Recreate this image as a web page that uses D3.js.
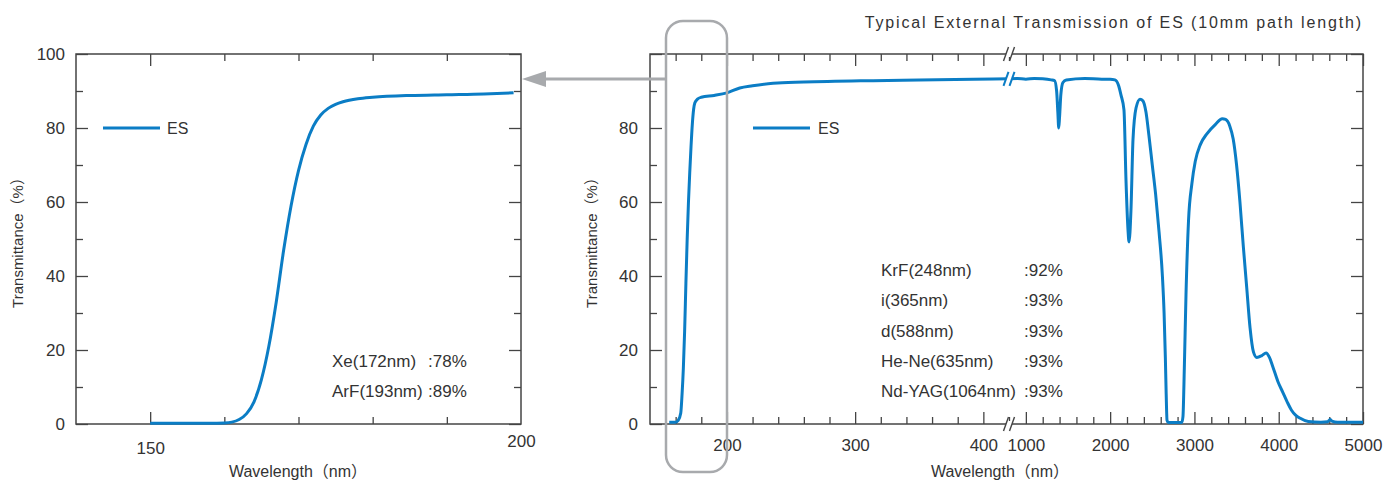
<!DOCTYPE html>
<html>
<head>
<meta charset="utf-8">
<script src="https://cdn.jsdelivr.net/npm/d3@7"></script>
<style>
  body { margin: 0; background: #fff; }
  text { font-family: "Liberation Sans", "Noto Sans CJK JP", sans-serif; fill: #333; }
</style>
</head>
<body>
<div id="chart"></div>
<script>
// transmission data
const zoomWl = [150, 155, 158, 160, 161, 162, 163, 164, 165, 166, 167, 168, 169, 170, 171, 172, 173, 174, 175, 176, 178, 180, 185, 190, 195, 199];
const zoomT  = [0.2, 0.2, 0.2, 0.3, 0.5, 1.2, 2.8, 6, 12, 21, 33, 47, 59, 68.5, 75.5, 80.5, 83.5, 85.3, 86.4, 87.1, 87.9, 88.3, 88.8, 89.0, 89.2, 89.5];

// full range, part before the axis break (nm)
const uvWl = [155, 160, 162, 164, 165, 166, 167, 168, 169, 170, 171, 172, 173, 174, 175, 177, 180, 190, 200, 210, 220, 236, 260, 314, 350, 392, 420];
const uvT  = [0.5, 0.5, 1, 3, 8, 15, 25, 38, 50, 60, 68, 75, 81, 85, 86.8, 87.8, 88.3, 88.8, 89.5, 90.8, 91.4, 92.1, 92.4, 92.8, 93, 93.2, 93.3];

// full range, part after the axis break (nm)
const irWl = [800, 900, 1000, 1100, 1200, 1300, 1340, 1365, 1380, 1390, 1400, 1415, 1440, 1480, 1700, 1900, 2000, 2057, 2100, 2129, 2164, 2188, 2212, 2224, 2247, 2271, 2307, 2354, 2390, 2425, 2460, 2500, 2540, 2580, 2620, 2640, 2655, 2665, 2675, 2690, 2850, 2864, 2880, 2900, 2930, 2970, 3010, 3070, 3150, 3250, 3330, 3370, 3420, 3460, 3500, 3540, 3580, 3620, 3660, 3700, 3740, 3800, 3850, 3890, 3930, 3990, 4050, 4100, 4150, 4200, 4250, 4350, 4500, 4580, 4610, 4630, 4700, 5000];
const irT  = [93.3, 93.4, 93.2, 93.4, 93.3, 93.0, 92.8, 90, 84, 80, 83, 89, 92.3, 93, 93.4, 93.2, 93.2, 93, 91.5, 88.9, 84.9, 65.9, 52.4, 49.2, 57.8, 76.8, 85.4, 87.8, 87.3, 84.3, 78, 70, 62, 52, 40, 30, 18, 8, 1, 0.4, 0.4, 2, 15, 35, 55, 65, 71, 75.5, 78.5, 81, 82.5, 82.3, 80.5, 77, 70, 60, 48, 37, 26, 19.5, 18, 18.5, 19.2, 18, 15.5, 11.5, 8.5, 6, 3.8, 2.4, 1.6, 0.7, 0.5, 0.6, 1.2, 0.8, 0.5, 0.5];

const yTicks = [0, 20, 40, 60, 80, 100];
const yMinor = [10, 30, 50, 70, 90];
const zoomMinor = [160, 170, 180, 190];
const uvMajor = [200, 300, 400];
const uvMinor = d3.range(160, 420, 20).filter(v => v % 100 !== 0);
const irMajor = [1000, 2000, 3000, 4000, 5000];
const irMinor = d3.range(800, 5000, 200).filter(v => v % 1000 !== 0);

const xeNote = ["Xe(172nm)", ":78%"];
const arfNote = ["ArF(193nm)", ":89%"];
const laserNames = ["KrF(248nm)", "i(365nm)", "d(588nm)", "He-Ne(635nm)", "Nd-YAG(1064nm)"];
const laserValues = [":92%", ":93%", ":93%", ":93%", ":93%"];

const title = "Typical External Transmission of ES (10mm path length)";
const blue = "#0b7dc5";
const gray = "#a8aaad";
const axisColor = "#444";

const svg = d3.select("#chart").append("svg")
    .attr("width", 1395)
    .attr("height", 482);

const y = d3.scaleLinear().domain([0, 100]).range([424, 54]);

// ticks inward, labels optional
function drawTicks(g, axisFn, scale, vals, size, pad) {
    const a = axisFn(scale).tickValues(vals).tickSize(-size).tickPadding(pad || 0);
    if (pad == null) a.tickFormat("");
    else a.tickFormat(d3.format("d"));
    g.call(a);
    g.select(".domain").remove();
    g.selectAll("line").attr("stroke", axisColor).attr("stroke-width", 1.3);
    g.selectAll("text").attr("font-size", 17).attr("font-family", "Liberation Sans, sans-serif").attr("fill", "#333");
}

// ---------- left (zoom) chart ----------
const xz = d3.scaleLinear().domain([140, 200]).range([76, 521]);
const left = svg.append("g");

drawTicks(left.append("g").attr("transform", "translate(76,0)"), d3.axisLeft, y, yTicks, 12, 11);
drawTicks(left.append("g").attr("transform", "translate(76,0)"), d3.axisLeft, y, yMinor, 7);
drawTicks(left.append("g").attr("transform", "translate(521,0)"), d3.axisRight, y, yTicks, 12);
drawTicks(left.append("g").attr("transform", "translate(521,0)"), d3.axisRight, y, yMinor, 7);
drawTicks(left.append("g").attr("transform", "translate(0,424)"), d3.axisBottom, xz, [150], 12, 18);
drawTicks(left.append("g").attr("transform", "translate(0,424)"), d3.axisBottom, xz, [200], 0, 11);
drawTicks(left.append("g").attr("transform", "translate(0,424)"), d3.axisBottom, xz, zoomMinor, 7);
drawTicks(left.append("g").attr("transform", "translate(0,54)"), d3.axisTop, xz, [150], 12);
drawTicks(left.append("g").attr("transform", "translate(0,54)"), d3.axisTop, xz, zoomMinor, 7);

left.append("rect")
    .attr("x", 76).attr("y", 54)
    .attr("width", 521 - 76).attr("height", 424 - 54)
    .attr("fill", "none").attr("stroke", axisColor).attr("stroke-width", 1.5);

const zoomLine = d3.line()
    .x((d, i) => xz(zoomWl[i]))
    .y(d => y(d))
    .curve(d3.curveMonotoneX);

left.append("path")
    .datum(zoomT)
    .attr("fill", "none")
    .attr("stroke", blue)
    .attr("stroke-width", 3)
    .attr("d", zoomLine);

// legend
left.append("line").attr("x1", 103).attr("x2", 160).attr("y1", y(80)).attr("y2", y(80))
    .attr("stroke", blue).attr("stroke-width", 3);
left.append("text").attr("x", 167).attr("y", y(80)).attr("dy", "0.36em")
    .attr("font-size", 16).text("ES");

// notes
[xeNote, arfNote].forEach((n, i) => {
    left.append("text").attr("x", 332).attr("y", 367 + i * 30).attr("font-size", 17).text(n[0]);
    left.append("text").attr("x", 428).attr("y", 367 + i * 30).attr("font-size", 17).text(n[1]);
});

left.append("text")
    .attr("transform", "translate(23,239) rotate(-90)")
    .attr("text-anchor", "middle").attr("font-size", 15)
    .text("Transmittance（%）");
left.append("text")
    .attr("x", 298).attr("y", 477)
    .attr("text-anchor", "middle").attr("font-size", 16)
    .text("Wavelength（nm）");

// ---------- right (full range) chart ----------
const xa = d3.scaleLinear().domain([140, 420]).range([650, 1009]);
const xb = d3.scaleLinear().domain([800, 5000]).range([1009, 1363]);
const right = svg.append("g");

drawTicks(right.append("g").attr("transform", "translate(650,0)"), d3.axisLeft, y, yTicks.slice(0, 5), 12, 12);
drawTicks(right.append("g").attr("transform", "translate(650,0)"), d3.axisLeft, y, [100], 12);
drawTicks(right.append("g").attr("transform", "translate(650,0)"), d3.axisLeft, y, yMinor, 7);
drawTicks(right.append("g").attr("transform", "translate(1363,0)"), d3.axisRight, y, yTicks, 12);
drawTicks(right.append("g").attr("transform", "translate(1363,0)"), d3.axisRight, y, yMinor, 7);

[[xa, uvMajor, uvMinor], [xb, irMajor, irMinor]].forEach(([sc, maj, mnr]) => {
    drawTicks(right.append("g").attr("transform", "translate(0,424)"), d3.axisBottom, sc, maj, 12, 15);
    drawTicks(right.append("g").attr("transform", "translate(0,424)"), d3.axisBottom, sc, mnr, 7);
    drawTicks(right.append("g").attr("transform", "translate(0,54)"), d3.axisTop, sc, maj, 12);
    drawTicks(right.append("g").attr("transform", "translate(0,54)"), d3.axisTop, sc, mnr, 7);
});

right.append("rect")
    .attr("x", 650).attr("y", 54)
    .attr("width", 1363 - 650).attr("height", 424 - 54)
    .attr("fill", "none").attr("stroke", axisColor).attr("stroke-width", 1.5);

const uvLine = d3.line()
    .x((d, i) => xa(uvWl[i]))
    .y(d => y(d))
    .curve(d3.curveMonotoneX);
const irLine = d3.line()
    .x((d, i) => xb(irWl[i]))
    .y(d => y(d))
    .curve(d3.curveMonotoneX);

right.append("path").datum(uvT)
    .attr("fill", "none").attr("stroke", blue).attr("stroke-width", 3)
    .attr("d", uvLine);
right.append("path").datum(irT)
    .attr("fill", "none").attr("stroke", blue).attr("stroke-width", 3)
    .attr("d", irLine);

// break marks "//" on both axes and on the curve
const bx = xa(420);
[[54, axisColor, 1.4], [424, axisColor, 1.4], [y(93.3), blue, 2]].forEach(([by, col, w]) => {
    right.append("rect").attr("x", bx - 3).attr("y", by - 3).attr("width", 6).attr("height", 6).attr("fill", "#fff");
    [-3, 3].forEach(off => {
        right.append("line")
            .attr("x1", bx + off - 2.5).attr("y1", by + 7)
            .attr("x2", bx + off + 2.5).attr("y2", by - 7)
            .attr("stroke", col).attr("stroke-width", w);
    });
});

right.append("line").attr("x1", 753).attr("x2", 810).attr("y1", y(80)).attr("y2", y(80))
    .attr("stroke", blue).attr("stroke-width", 3);
right.append("text").attr("x", 818).attr("y", y(80)).attr("dy", "0.36em")
    .attr("font-size", 16).text("ES");

laserNames.forEach((n, i) => {
    right.append("text").attr("x", 881).attr("y", 276 + i * 30.25).attr("font-size", 17).text(n);
    right.append("text").attr("x", 1024).attr("y", 276 + i * 30.25).attr("font-size", 17).text(laserValues[i]);
});

right.append("text")
    .attr("transform", "translate(597,239) rotate(-90)")
    .attr("text-anchor", "middle").attr("font-size", 15)
    .text("Transmittance（%）");
right.append("text")
    .attr("x", 1000).attr("y", 477)
    .attr("text-anchor", "middle").attr("font-size", 16)
    .text("Wavelength（nm）");

svg.append("text")
    .attr("x", 1363).attr("y", 28)
    .attr("text-anchor", "end")
    .attr("font-size", 16)
    .attr("letter-spacing", 1.85)
    .attr("font-family", "DejaVu Sans, sans-serif")
    .attr("fill", "#444")
    .text(title);

// gray highlight box and arrow
svg.append("rect")
    .attr("x", 666).attr("y", 21)
    .attr("width", 727 - 666).attr("height", 472 - 21)
    .attr("rx", 17)
    .attr("fill", "none").attr("stroke", gray).attr("stroke-width", 2.5);
svg.append("line")
    .attr("x1", 666).attr("x2", 540).attr("y1", 79).attr("y2", 79)
    .attr("stroke", gray).attr("stroke-width", 3);
svg.append("path")
    .attr("d", "M522,79 L546,71 L546,87 Z")
    .attr("fill", gray);
</script>
</body>
</html>
